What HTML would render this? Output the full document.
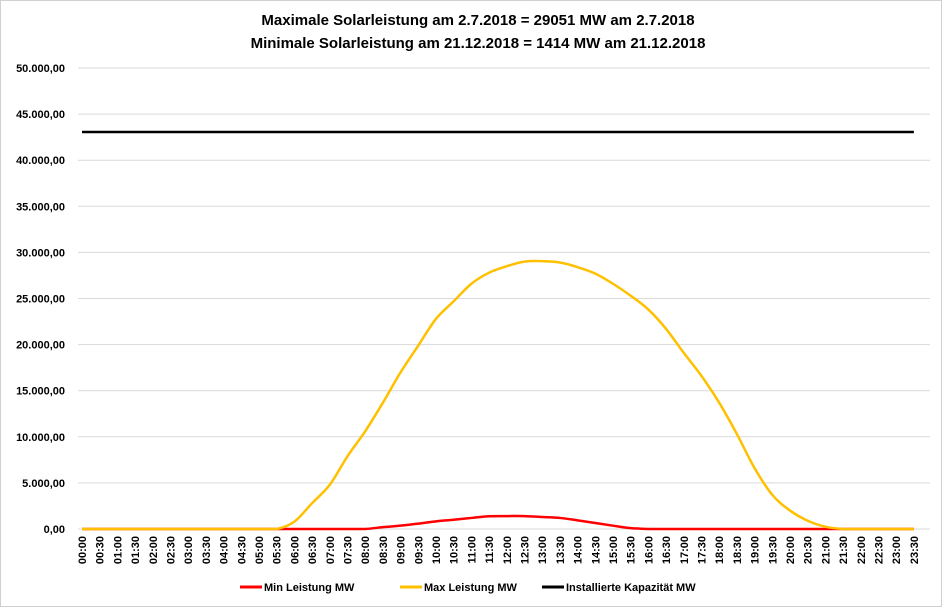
<!DOCTYPE html>
<html><head><meta charset="utf-8"><style>
body{margin:0;background:#fff}
svg text{font-family:"Liberation Sans",sans-serif;font-weight:bold;fill:#000}
</style></head><body>
<svg id="c" width="942" height="607" xmlns="http://www.w3.org/2000/svg">
<rect x="0.5" y="0.5" width="941" height="606" fill="#fff" stroke="#d0d0d0"/>
<text x="478" y="25" text-anchor="middle" font-size="15">Maximale Solarleistung  am 2.7.2018 = 29051 MW am 2.7.2018</text>
<text x="478" y="48" text-anchor="middle" font-size="15">Minimale Solarleistung  am 21.12.2018 = 1414 MW am 21.12.2018</text>
<g id="grid"></g><g id="series"></g><g id="xl"></g>
<g>
<line x1="240" y1="587" x2="262" y2="587" stroke="#ff0000" stroke-width="3"/>
<text x="264" y="591" font-size="11">Min Leistung  MW</text>
<line x1="400" y1="587" x2="422" y2="587" stroke="#ffc000" stroke-width="3"/>
<text x="424" y="591" font-size="11">Max Leistung MW</text>
<line x1="542" y1="587" x2="564" y2="587" stroke="#000" stroke-width="3"/>
<text x="566" y="591" font-size="11">Installierte Kapazität MW</text>
</g>
</svg>
<script>
const times=[];for(let i=0;i<48;i++){times.push(String(Math.floor(i/2)).padStart(2,'0')+':'+(i%2?'30':'00'));}
const yTicks=[0,5000,10000,15000,20000,25000,30000,35000,40000,45000,50000];
const yTickLabels=["0,00","5.000,00","10.000,00","15.000,00","20.000,00","25.000,00","30.000,00","35.000,00","40.000,00","45.000,00","50.000,00"];
const maxValues=[0,0,0,0,0,0,0,0,0,0,0,0,800,2800,4800,7900,10600,13700,17000,19900,22800,24700,26600,27800,28500,29000,29050,28900,28400,27700,26600,25300,23800,21700,19100,16600,13700,10300,6600,3700,2000,900,250,0,0,0,0,0];
const minValues=[0,0,0,0,0,0,0,0,0,0,0,0,0,0,0,0,0,200,360,580,830,1000,1200,1380,1400,1400,1300,1200,940,650,360,100,0,0,0,0,0,0,0,0,0,0,0,0,0,0,0,0];
const capacity=43060;
const NS="http://www.w3.org/2000/svg";
const X=i=>82+i*17.7, Y=v=>529-v/50000*461;
const g=document.getElementById('grid'),s=document.getElementById('series'),xl=document.getElementById('xl');
function mk(p,tag,a){const e=document.createElementNS(NS,tag);for(const k in a)e.setAttribute(k,a[k]);p.appendChild(e);return e;}
yTicks.forEach((v,i)=>{
 const l=mk(g,'line',{x1:78,x2:930,y1:Y(v),y2:Y(v),stroke:'#d9d9d9','stroke-width':1});
 
 
 const t=mk(g,'text',{x:65,y:Y(v)+4,'text-anchor':'end','font-size':11});
 t.textContent=yTickLabels[i];
 
 
});
times.forEach((tm,i)=>{
 const t=mk(xl,'text',{transform:`translate(${X(i)+4},536) rotate(-90)`,'text-anchor':'end','font-size':11});
 t.textContent=tm;
 
 
});
function smooth(vals){
 const P=vals.map((v,i)=>[X(i),Y(v)]);
 let d='M'+P[0][0]+','+P[0][1];
 for(let i=0;i<P.length-1;i++){
  const p0=P[Math.max(0,i-1)],p1=P[i],p2=P[i+1],p3=P[Math.min(P.length-1,i+2)];
  let c1y=p1[1]+(p2[1]-p0[1])/6,c2y=p2[1]-(p3[1]-p1[1])/6;
  const lo=Y(0);c1y=Math.min(c1y,lo);c2y=Math.min(c2y,lo);
  d+=` C${p1[0]+(p2[0]-p0[0])/6},${c1y} ${p2[0]-(p3[0]-p1[0])/6},${c2y} ${p2[0]},${p2[1]}`;
 }
 return d;
}
function line(vals,col,name){
 const p=mk(s,'path',{d:smooth(vals),fill:'none',stroke:col,'stroke-width':2.5,'stroke-linejoin':'round'});
 
 
}
line(minValues,'#ff0000','min-series-line');
line(maxValues,'#ffc000','max-series-line');
const c=mk(s,'line',{x1:X(0),x2:X(47),y1:Y(capacity),y2:Y(capacity),stroke:'#000','stroke-width':2.5});


</script>
</body></html>
